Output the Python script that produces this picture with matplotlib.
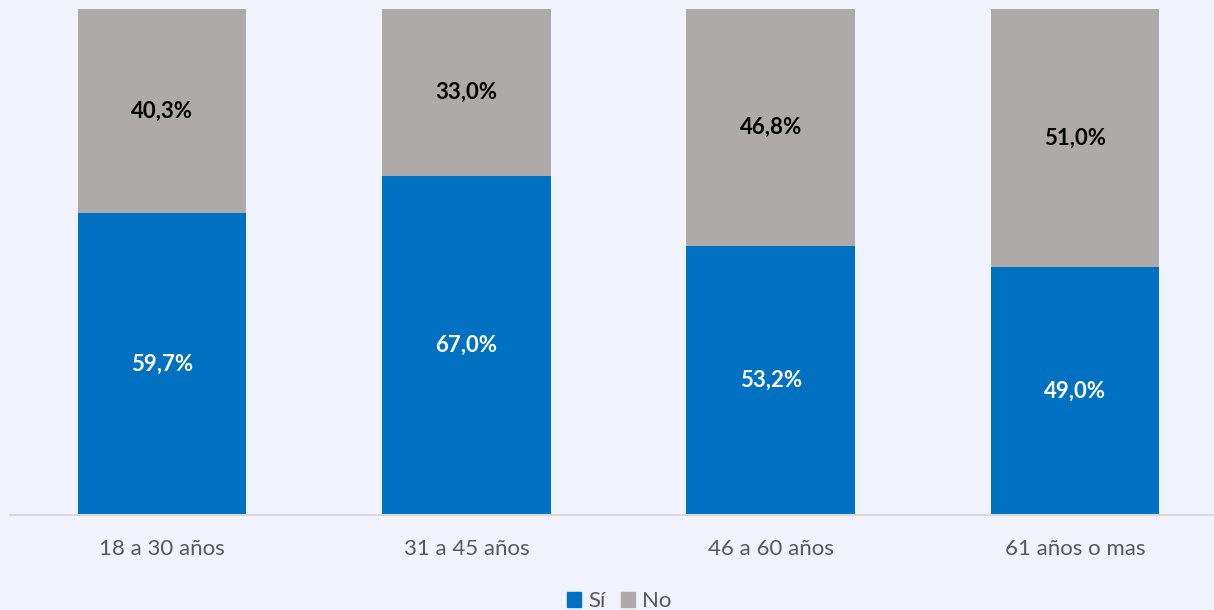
import matplotlib.pyplot as plt
from matplotlib.patches import Patch

# data
categories = ['18 a 30 años', '31 a 45 años', '46 a 60 años', '61 años o mas']
si_values = [59.7, 67.0, 53.2, 49.0]
no_values = [40.3, 33.0, 46.8, 51.0]

blue = '#0070C0'
grey = '#AEAAAA'
bg = '#F0F3FC'

plt.rcParams['font.family'] = ['Lato', 'DejaVu Sans']

fig = plt.figure(figsize=(12.14, 6.10), dpi=100, facecolor=bg)
# axes in pixel terms: x 10..1227, y 9..515 (from top)
ax = fig.add_axes([10 / 1214, (610 - 515) / 610, 1217 / 1214, 506 / 610])
ax.set_facecolor(bg)

x = range(len(categories))
ax.bar(x, si_values, width=0.553, color=blue, label='Sí')
ax.bar(x, no_values, width=0.553, bottom=si_values, color=grey, label='No')

for i in x:
    ax.text(i, si_values[i] / 2, f'{si_values[i]:.1f}%'.replace('.', ','),
            ha='center', va='center', color='white', fontsize=16, fontweight='bold')
    ax.text(i, si_values[i] + no_values[i] / 2, f'{no_values[i]:.1f}%'.replace('.', ','),
            ha='center', va='center', color='black', fontsize=16, fontweight='bold')

ax.set_xlim(-0.5, 3.5)
ax.set_ylim(0, 100)
ax.set_xticks(list(x))
ax.set_xticklabels(categories, fontsize=16, color='#595959')
ax.tick_params(axis='x', length=0, pad=17)
ax.set_yticks([])
for s in ['top', 'left', 'right']:
    ax.spines[s].set_visible(False)
ax.spines['bottom'].set_color('#D9D9D9')
ax.spines['bottom'].set_linewidth(1.5)

handles = [Patch(color=blue, label='Sí'), Patch(color=grey, label='No')]
fig.legend(handles=handles, loc='center', bbox_to_anchor=(0.51, 9 / 610),
           ncol=2, frameon=False, fontsize=16, handlelength=0.65, handleheight=0.65,
           handletextpad=0.3, columnspacing=0.7, labelcolor='#595959')

fig.savefig('out.png', dpi=100, facecolor=bg)
